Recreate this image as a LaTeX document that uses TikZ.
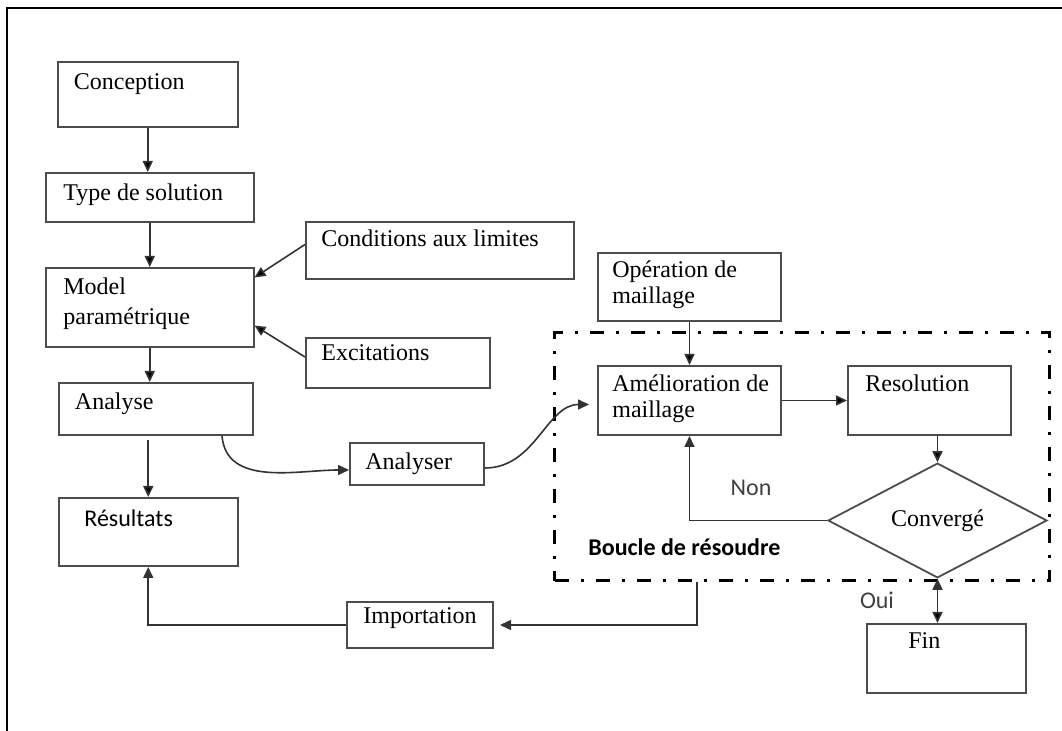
\documentclass[tikz,border=0pt]{standalone}
\usepackage{fontspec}
\setmainfont{Liberation Serif}
\newfontfamily\calibri{Carlito}
\usetikzlibrary{shapes.geometric,arrows.meta}

\begin{document}
\begin{tikzpicture}[x=0.5pt,y=-0.5pt,>={Triangle[length=5.5pt,width=5pt]}]
    \tikzstyle{boite}=[draw=black!70,line width=1pt,rectangle,anchor=north west,inner sep=0pt];
    \tikzstyle{txt}=[anchor=north west,inner sep=0pt,align=left,xshift=8pt,yshift=-5pt,font=\fontsize{12}{13}\selectfont];
    \tikzstyle{fleche}=[->,draw=black!80,line width=0.8pt];
    \tikzstyle{mot}=[inner sep=0pt,text=black!75,font=\calibri\fontsize{12}{14}\selectfont];
    \tikzstyle{motgras}=[inner sep=0pt,anchor=west,font=\calibri\bfseries\fontsize{12}{14}\selectfont];
    \useasboundingbox (0,0) rectangle (1062,731);
    \draw[line width=1.4pt] (7,731) -- (7,8) -- (1062,8);

    % colonne de gauche
    \node (conc) [boite,minimum width=89.75pt,minimum height=32.5pt,
      label={[txt,xshift=0.25pt,yshift=-1.3pt]north west:Conception}] at (57,61) {};
    \node (type) [boite,minimum width=103.75pt,minimum height=24.5pt,
      label={[txt,xshift=1pt,yshift=-0.8pt]north west:Type de solution}] at (45,172) {};
    \node (model) [boite,minimum width=103.75pt,minimum height=39.5pt,
      label={[txt,xshift=1pt,yshift=-0.3pt]north west:Model\\[2pt]paramétrique}] at (45,267) {};
    \node (ana) [boite,minimum width=97pt,minimum height=26pt,
      label={[txt,xshift=0.3pt,yshift=-0.3pt]north west:Analyse}] at (58,382) {};
    \node (res) [boite,minimum width=89.25pt,minimum height=34pt,
      label={[txt,xshift=5pt,yshift=-1pt,font=\calibri\fontsize{12}{14}\selectfont]north west:Résultats}] at (58,497) {};

    % entrees du modele
    \node (cond) [boite,minimum width=134pt,minimum height=28.5pt,
      label={[txt,yshift=0.7pt]north west:Conditions aux limites}] at (305,221) {};
    \node (exc) [boite,minimum width=92pt,minimum height=25pt,
      label={[txt,yshift=1.2pt]north west:Excitations}] at (305,337) {};

    \node (anr) [boite,minimum width=67pt,minimum height=21pt,
      label={[txt,yshift=-0.3pt]north west:Analyser}] at (349,442) {};
    \node (imp) [boite,minimum width=73pt,minimum height=23pt,
      label={[txt,xshift=0.5pt,yshift=1.7pt]north west:Importation}] at (346,601) {};

    % boucle de resolution
    \node (ope) [boite,minimum width=91.5pt,minimum height=34pt,
      label={[txt,xshift=-0.5pt,yshift=0.7pt]north west:Opération de\\maillage}] at (597,252) {};
    \node (boucle) [draw,anchor=north west,inner sep=0pt,line width=1.6pt,
      dash pattern=on 7pt off 6pt on 1.5pt off 6pt,
      minimum width=247.5pt,minimum height=124pt] at (553,331) {};
    \node (ame) [boite,minimum width=91.5pt,minimum height=34.5pt,
      label={[txt,xshift=-0.5pt,yshift=0.2pt]north west:Amélioration de\\maillage}] at (597,365) {};
    \node (reso) [boite,minimum width=81.5pt,minimum height=34.5pt,
      label={[txt,xshift=1pt,yshift=0.2pt]north west:Resolution}] at (847,365) {};
    \node (conv) [draw=black!70,line width=0.9pt,diamond,inner sep=0pt,
      minimum width=109.5pt,minimum height=51.5pt,
      font=\fontsize{12}{13}\selectfont] at (937.5,520.5) {Convergé};
    \node (fin) [boite,minimum width=79.5pt,minimum height=34.5pt,
      label={[txt,xshift=13pt,yshift=0.2pt]north west:Fin}] at (866,623) {};

    \node (non) [mot] at (751,488) {Non};
    \node (oui) [mot] at (877,600) {Oui};
    \node (bcl) [motgras] at (588,547) {Boucle de résoudre};

    \path[fleche] (conc.south) edge (conc.south |- type.north)
    (type.south) edge (type.south |- model.north)
    (model.south) edge (model.south |- ana.north)
    ([yshift=3pt]cond.west) edge ([yshift=15pt]model.east)
    ([yshift=3pt]exc.west) edge ([yshift=-9pt]model.east)
    (res.north |- ana.south) edge[shorten <=2pt] (res.north)
    (ope) edge (ame) (ame) edge (reso)
    (conv.north |- reso.south) edge (conv.north)
    (conv.south) edge (conv.south |- fin.north);

    \draw[fleche] (conv.west) -| (ame.south);
    \draw[fleche] ([xshift=-16pt]ana.south east) to[out=-85,in=180] ([yshift=-3pt]anr.west);
    \draw[fleche,shorten >=4pt] ([yshift=-2pt]anr.east) to[out=0,in=180] ([yshift=-2pt]ame.west);
    \draw[fleche,shorten >=3pt] ([xshift=72pt]boucle.south west) |- (imp.east);
    \draw[fleche] (imp.west) -| (res.south);
\end{tikzpicture}
\end{document}
